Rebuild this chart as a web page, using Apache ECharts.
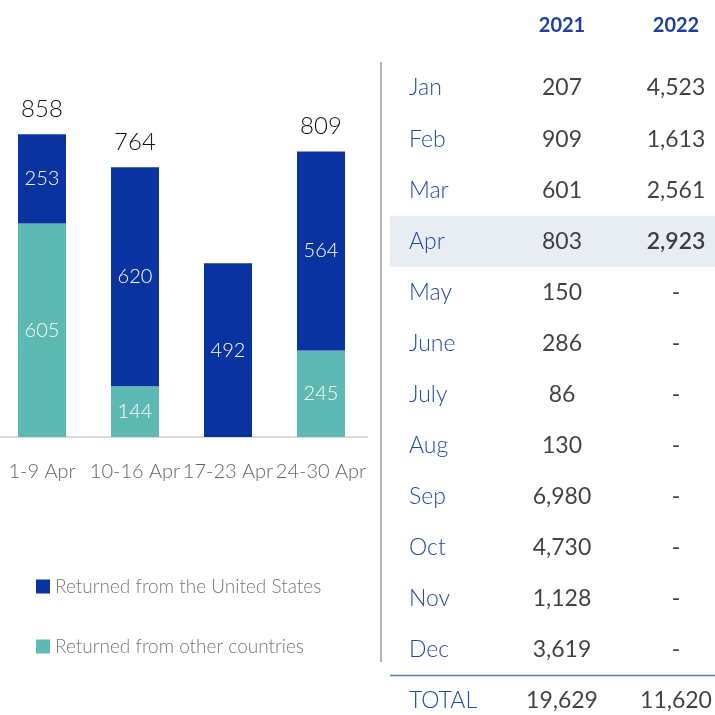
<!DOCTYPE html>
<html>
<head>
<meta charset="utf-8">
<script src="https://cdn.jsdelivr.net/npm/echarts@6/dist/echarts.min.js"></script>
<style>
  html, body { margin: 0; padding: 0; background: #fff; }
  #chart { width: 715px; height: 715px; }
</style>
</head>
<body>
<div id="chart"></div>
<script>
// weekly data, April 2022
const weeks = ['1-9 Apr', '10-16 Apr', '17-23 Apr', '24-30 Apr']
const fromUS = [253, 620, 492, 564]
const fromOther = [605, 144, null, 245]
const weekTotals = [858, 764, null, 809]

// monthly table
const months = ['Jan', 'Feb', 'Mar', 'Apr', 'May', 'June', 'July', 'Aug', 'Sep', 'Oct', 'Nov', 'Dec']
const years = ['2021', '2022']
const m2021 = [207, 909, 601, 803, 150, 286, 86, 130, 6980, 4730, 1128, 3619]
const m2022 = [4523, 1613, 2561, 2923, null, null, null, null, null, null, null, null]

const FONT = 'Lato, "Open Sans", sans-serif'
const LIGHT = 300
const BLUE = '#0833a1'
const TEAL = '#5db9b3'
const TXTBLUE = '#2448a6'

const fmt = v => (v == null ? '-' : v.toLocaleString('en-US'))
const sum = arr => arr.reduce((a, b) => a + (b || 0), 0)

const rows = months.concat(['TOTAL'])
const cells = []
rows.forEach((r, j) => {
    let a, b
    if (r === 'TOTAL') {
        a = sum(m2021); b = sum(m2022)
    } else {
        a = m2021[j]; b = m2022[j]
    }
    cells.push({ value: [0, j, fmt(a)] })
    const item = { value: [1, j, fmt(b)] }
    if (r === 'Apr') item.label = { fontWeight: 600 }  // current month
    cells.push(item)
})

const chart = echarts.init(document.getElementById('chart'))

const option = {
    animation: false,
    textStyle: { fontFamily: FONT },
    legend: {
        data: ['Returned from the United States', 'Returned from other countries'],
        orient: 'vertical',
        left: 36,
        top: 577,
        padding: 0,
        itemWidth: 14,
        itemHeight: 14,
        itemGap: 41,
        icon: 'rect',
        selectedMode: false,
        textStyle: { fontSize: 19, color: '#777', fontFamily: FONT, fontWeight: LIGHT }
    },
    grid: [
        { left: -4.5, width: 372, top: 84, bottom: 278, outerBoundsMode: 'none' },
        { left: 562, right: 39, top: 88, bottom: 14, outerBoundsMode: 'none' }
    ],
    xAxis: [
        {
            gridIndex: 0,
            type: 'category',
            data: weeks,
            axisLine: { lineStyle: { color: '#cfcfcf', width: 1.5 } },
            axisTick: { show: false },
            axisLabel: { color: '#666', fontSize: 20, margin: 25, interval: 0, fontFamily: FONT, fontWeight: LIGHT }
        },
        {
            gridIndex: 1,
            type: 'category',
            data: years,
            position: 'top',
            boundaryGap: false,
            axisLine: { show: false },
            axisTick: { show: false },
            splitLine: { show: false },
            axisLabel: { color: '#1f3e9e', fontSize: 20, fontWeight: 'bold', margin: 52, fontFamily: FONT }
        }
    ],
    yAxis: [
        {
            gridIndex: 0,
            type: 'value',
            min: 0,
            max: 1000,
            show: false
        },
        {
            gridIndex: 1,
            type: 'category',
            data: rows,
            inverse: true,
            boundaryGap: false,
            axisLine: { show: false },
            axisTick: { show: false },
            splitLine: { show: false },
            axisLabel: {
                color: TXTBLUE, fontSize: 23, align: 'left', margin: 153, interval: 0,
                fontFamily: FONT, fontWeight: LIGHT
            }
        }
    ],
    series: [
        {
            name: 'Returned from other countries',
            type: 'bar',
            stack: 'w',
            xAxisIndex: 0,
            yAxisIndex: 0,
            barWidth: 48,
            data: fromOther,
            itemStyle: { color: TEAL },
            label: { show: true, position: 'inside', color: '#fff', fontSize: 20, fontFamily: FONT, fontWeight: LIGHT }
        },
        {
            name: 'Returned from the United States',
            type: 'bar',
            stack: 'w',
            xAxisIndex: 0,
            yAxisIndex: 0,
            barWidth: 48,
            data: fromUS,
            itemStyle: { color: BLUE },
            label: { show: true, position: 'inside', color: '#fff', fontSize: 20, fontFamily: FONT, fontWeight: LIGHT }
        },
        {
            // zero-height bar on top of the stack, only for the total label
            name: 'total',
            type: 'bar',
            stack: 'w',
            xAxisIndex: 0,
            yAxisIndex: 0,
            barWidth: 48,
            data: weekTotals.map(() => 0),
            itemStyle: { color: 'transparent' },
            label: {
                show: true,
                position: 'top',
                distance: 13,
                color: '#111',
                fontSize: 24,
                fontFamily: FONT,
                fontWeight: LIGHT,
                formatter: p => (weekTotals[p.dataIndex] == null ? '' : String(weekTotals[p.dataIndex]))
            }
        },
        {
            name: 'table',
            type: 'scatter',
            xAxisIndex: 1,
            yAxisIndex: 1,
            symbolSize: 0,
            data: cells,
            label: {
                show: true,
                position: 'inside',
                color: '#111',
                fontSize: 23,
                fontFamily: FONT,
                formatter: p => p.value[2]
            },
            z: 5
        }
    ]
}

chart.setOption(option)

// row highlight + separator, placed on the table's own axis
const aprY = chart.convertToPixel({ yAxisIndex: 1 }, 'Apr')
const decY = chart.convertToPixel({ yAxisIndex: 1 }, 'Dec')
const totY = chart.convertToPixel({ yAxisIndex: 1 }, 'TOTAL')
const rowH = totY - decY

chart.setOption({
    graphic: [
        {
            type: 'rect',
            z: -10,
            shape: { x: 390, y: aprY - rowH / 2, width: 325, height: rowH },
            style: { fill: '#e8edf4' }
        },
        {
            type: 'line',
            shape: { x1: 381, y1: 62, x2: 381, y2: 662 },
            style: { stroke: '#b5b5b5', lineWidth: 2 }
        },
        {
            type: 'line',
            shape: { x1: 390, y1: (decY + totY) / 2, x2: 715, y2: (decY + totY) / 2 },
            style: { stroke: '#5a7bc2', lineWidth: 1.5 }
        }
    ]
})
</script>
</body>
</html>
